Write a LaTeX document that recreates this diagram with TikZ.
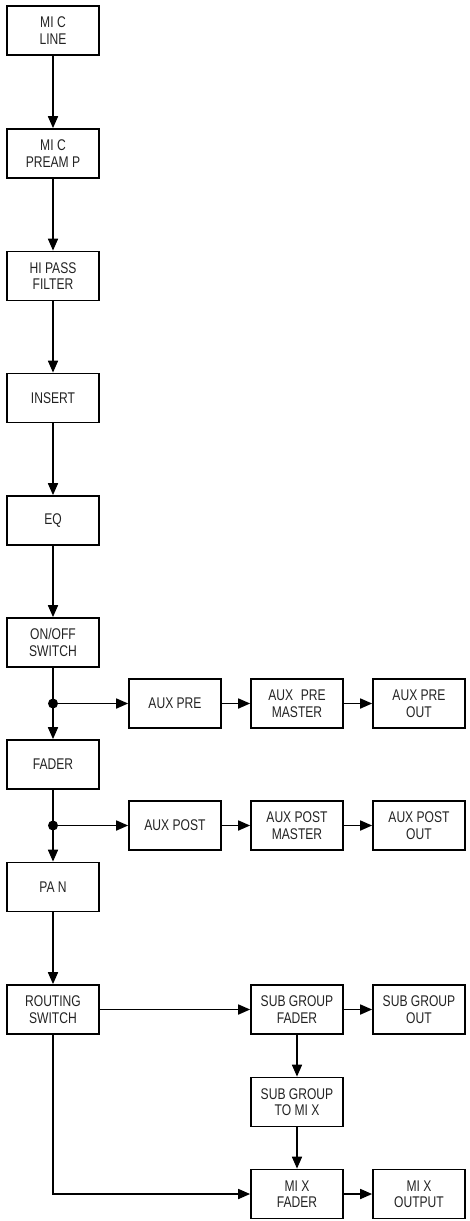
\documentclass[tikz,border=0pt]{standalone}
\usepackage{fontspec}
\setmainfont{Liberation Sans}[FakeStretch=0.78]
\usetikzlibrary{arrows.meta}
\definecolor{Ink}{RGB}{35,35,35}

\tikzset{
  block/.style={draw=black,line width=1.7pt,minimum width=92pt,minimum height=49pt,inner sep=0pt,align=center,text=Ink,font=\fontsize{15.5}{16.5}\selectfont},
  sig/.style={line width=1.7pt,-{Triangle[length=12pt,width=10pt]}},
  tap/.style={circle,fill=black,inner sep=0pt,minimum size=10pt}
}

\begin{document}
\begin{tikzpicture}[x=1pt,y=-1pt,line join=miter]
\path[use as bounding box] (0,0) rectangle (470,1221);
% main channel strip
\node[block] (mic)    at (53,30.5)   {MI C\\LINE};
\node[block] (pre)    at (53,153.5)  {MI C\\PREAM P};
\node[block] (hpf)    at (53,276)    {HI PASS\\FILTER};
\node[block] (ins)    at (53,398)    {INSERT};
\node[block] (eq)     at (53,520.5)  {EQ};
\node[block] (onoff)  at (53,642.5)  {ON/OFF\\SWITCH};
\node[block] (fader)  at (53,764.5)  {FADER};
\node[block] (pan)    at (53,887)    {PA N};
\node[block] (rout)   at (53,1009.5) {ROUTING\\SWITCH};
% aux sends
\node[tap] (tpre)  at (53,703.5) {};
\node[tap] (tpost) at (53,825.5) {};
\node[block] (auxpre)   at (175,703.5) {AUX PRE};
\node[block] (auxprem)  at (297,703.5) {AUX\enspace PRE\\MASTER};
\node[block] (auxpreo)  at (419,703.5) {AUX PRE\\OUT};
\node[block] (auxpost)  at (175,825.5) {AUX POST};
\node[block] (auxpostm) at (297,825.5) {AUX POST\\MASTER};
\node[block] (auxposto) at (419,825.5) {AUX POST\\OUT};
% groups and mix
\node[block] (sgf)  at (297,1009.5) {SUB GROUP\\FADER};
\node[block] (sgo)  at (419,1009.5) {SUB GROUP\\OUT};
\node[block] (sgtm) at (297,1102)   {SUB GROUP\\TO MI X};
\node[block] (mixf) at (297,1194)   {MI X\\FADER};
\node[block] (mixo) at (419,1194)   {MI X\\OUTPUT};

\draw[sig] (mic) -- (pre);
\draw[sig] (pre) -- (hpf);
\draw[sig] (hpf) -- (ins);
\draw[sig] (ins) -- (eq);
\draw[sig] (eq) -- (onoff);
\draw[sig] (onoff) -- (fader);
\draw[sig] (fader) -- (pan);
\draw[sig] (pan) -- (rout);

\draw[sig] (tpre) -- (auxpre);
\draw[sig] (auxpre) -- (auxprem);
\draw[sig] (auxprem) -- (auxpreo);
\draw[sig] (tpost) -- (auxpost);
\draw[sig] (auxpost) -- (auxpostm);
\draw[sig] (auxpostm) -- (auxposto);

\draw[sig] (rout) -- (sgf);
\draw[sig] (sgf) -- (sgo);
\draw[sig] (sgf) -- (sgtm);
\draw[sig] (sgtm) -- (mixf);
\draw[sig] (rout) |- (mixf);
\draw[sig] (mixf) -- (mixo);
\end{tikzpicture}
\end{document}
